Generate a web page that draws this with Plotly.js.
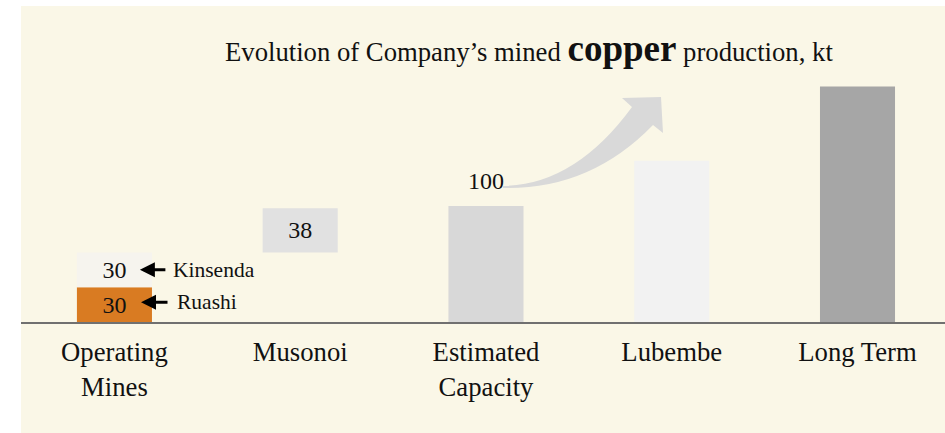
<!DOCTYPE html>
<html>
<head>
<meta charset="utf-8">
<script src="https://cdn.plot.ly/plotly-3.0.1.min.js"></script>
<style>
html,body{margin:0;padding:0;background:#ffffff;}
#chart{width:945px;height:433px;}
</style>
</head>
<body>
<div id="chart"></div>
<script>
// ---- data ----
const categories = ['Operating<br>Mines', 'Musonoi', 'Estimated<br>Capacity', 'Lubembe', 'Long Term'];
const ruashi = 30;
const kinsenda = 30;
const musonoi = 38;
const totalCategories = ['Estimated<br>Capacity', 'Lubembe', 'Long Term'];
const totalValues = [100, 139, 203];
const totalColors = ['#D8D8D8', '#F2F2F2', '#A6A6A6'];
const title = 'Evolution of Company\u2019s mined <b><span style="font-size:37px">copper</span></b> production, kt';

const FONT = 'Liberation Serif';
const BW = 0.404;

const numFont = {family: FONT, size: 24, color: '#111111'};

const traces = [
  {
    type: 'bar', name: 'Ruashi',
    x: [categories[0]], y: [ruashi], base: [0],
    width: BW, marker: {color: '#D97B22'},
    text: [String(ruashi)], textposition: 'inside', insidetextanchor: 'middle',
    textangle: 0, constraintext: 'none', insidetextfont: numFont, textfont: numFont,
    hoverinfo: 'skip'
  },
  {
    type: 'bar', name: 'Kinsenda',
    x: [categories[0]], y: [kinsenda], base: [ruashi],
    width: BW, marker: {color: '#F6F4EE'},
    text: [String(kinsenda)], textposition: 'inside', insidetextanchor: 'middle',
    textangle: 0, constraintext: 'none', insidetextfont: numFont, textfont: numFont,
    hoverinfo: 'skip'
  },
  {
    type: 'bar', name: 'Musonoi',
    x: [categories[1]], y: [musonoi], base: [ruashi + kinsenda],
    width: BW, marker: {color: '#E1E1E1'},
    text: [String(musonoi)], textposition: 'inside', insidetextanchor: 'middle',
    textangle: 0, constraintext: 'none', insidetextfont: numFont, textfont: numFont,
    hoverinfo: 'skip'
  },
  {
    type: 'bar', name: 'Totals',
    x: totalCategories, y: totalValues, base: [0, 0, 0],
    width: BW, marker: {color: totalColors},
    hoverinfo: 'skip'
  }
];

// plot area: x 21..945 px, y 6..322 px
const PL = 21, PR = 945, PT = 6, PB = 322;
const px = v => (v - PL) / (PR - PL);
const py = v => (PB - v) / (PB - PT);

const arrowPath =
  'M' + px(503) + ',' + py(186) +
  ' Q' + px(575) + ',' + py(185) + ' ' + px(632) + ',' + py(107) +
  ' L' + px(622) + ',' + py(98) +
  ' L' + px(661) + ',' + py(97) +
  ' L' + px(663) + ',' + py(133) +
  ' L' + px(653) + ',' + py(125) +
  ' Q' + px(590) + ',' + py(190) + ' ' + px(503) + ',' + py(188) + ' Z';

const layout = {
  width: 945, height: 433,
  margin: {l: PL, r: 945 - PR, t: PT, b: 433 - PB, pad: 0},
  font: {family: FONT, size: 24, color: '#111111'},
  paper_bgcolor: '#ffffff',
  plot_bgcolor: 'rgba(0,0,0,0)',
  showlegend: false,
  barmode: 'overlay',
  hovermode: false,
  title: {
    text: title,
    font: {family: FONT, size: 26.7, color: '#111111'},
    xref: 'container', yref: 'container',
    x: 225 / 945, xanchor: 'left',
    y: 1 - 52 / 433, yanchor: 'middle'
  },
  xaxis: {
    type: 'category',
    range: [-0.503, 4.471],
    showline: true, linecolor: '#707070', linewidth: 2,
    showgrid: false, zeroline: false, ticks: '',
    ticklabelstandoff: 5,
    tickfont: {family: FONT, size: 26.7, color: '#111111'},
    fixedrange: true
  },
  yaxis: {
    range: [0, 272.4],
    visible: false, showgrid: false, zeroline: false,
    fixedrange: true
  },
  shapes: [
    {type: 'rect', xref: 'paper', yref: 'paper', layer: 'below',
     x0: 0, x1: 1, y0: py(433), y1: 1,
     fillcolor: '#FAF7E7', line: {width: 0}},
    {type: 'path', xref: 'paper', yref: 'paper', layer: 'above',
     path: arrowPath, fillcolor: '#D9D9D9', line: {width: 0}}
  ],
  annotations: [
    {x: totalCategories[0], y: totalValues[0], xref: 'x', yref: 'y',
     text: String(totalValues[0]), showarrow: false,
     yanchor: 'middle', yshift: 25,
     font: numFont},
    {x: 0.137, y: 45, xref: 'x', yref: 'y', text: '', showarrow: true,
     ax: 27, ay: 0, axref: 'pixel', ayref: 'pixel',
     arrowhead: 2, arrowsize: 1, arrowwidth: 3, arrowcolor: '#000000'},
    {x: 0.304, y: 45, xref: 'x', yref: 'y', text: 'Kinsenda', showarrow: false,
     xanchor: 'left', yanchor: 'middle',
     font: {family: FONT, size: 21.5, color: '#111111'}},
    {x: 0.143, y: 17, xref: 'x', yref: 'y', text: '', showarrow: true,
     ax: 28, ay: 0, axref: 'pixel', ayref: 'pixel',
     arrowhead: 2, arrowsize: 1, arrowwidth: 3, arrowcolor: '#000000'},
    {x: 0.326, y: 17, xref: 'x', yref: 'y', text: 'Ruashi', showarrow: false,
     xanchor: 'left', yanchor: 'middle',
     font: {family: FONT, size: 21.5, color: '#111111'}}
  ]
};

Plotly.newPlot('chart', traces, layout, {displayModeBar: false, staticPlot: true});
</script>
</body>
</html>
